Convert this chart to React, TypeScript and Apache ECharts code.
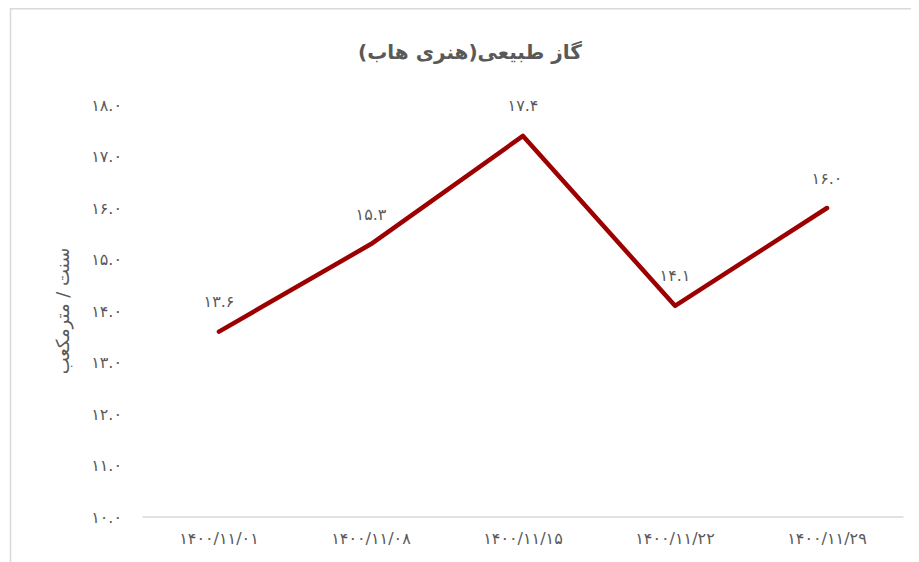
import React, { useEffect, useRef } from "react";
import * as echarts from "echarts";

const titleText = "گاز طبیعی(هنری هاب)";
const yAxisName = "سنت / مترمکعب";
const categories = ["۱۴۰۰/۱۱/۰۱", "۱۴۰۰/۱۱/۰۸", "۱۴۰۰/۱۱/۱۵", "۱۴۰۰/۱۱/۲۲", "۱۴۰۰/۱۱/۲۹"];
const values = [13.6, 15.3, 17.4, 14.1, 16.0];
const yMin = 10;
const yMax = 18;
const yInterval = 1;

const faDigits = "۰۱۲۳۴۵۶۷۸۹";
const toFa = (s: string) => s.replace(/[0-9]/g, (d) => faDigits[Number(d)]);

const FONT = "'DejaVu Sans', 'Noto Sans', sans-serif";
const GRAY = "#595959";

export default function App() {
  const ref = useRef<HTMLDivElement>(null);
  useEffect(() => {
    if (!ref.current) return;
    const chart = echarts.init(ref.current, undefined, { renderer: "svg" });
    chart.setOption({
      animation: false,
      backgroundColor: "#ffffff",
      graphic: [
        {
          type: "rect",
          shape: { x: 2.5, y: 0.75, width: 1000, height: 1000 },
          style: { fill: "none", stroke: "#d9d9d9", lineWidth: 1.5 },
          silent: true,
        },
        {
          type: "text",
          x: 462,
          y: 44,
          style: {
            text: titleText,
            fill: GRAY,
            font: `bold 20px ${FONT}`,
            textAlign: "center",
            textVerticalAlign: "middle",
          },
        },
      ],
      grid: { left: 135, right: 16, top: 97, bottom: 45 },
      xAxis: {
        type: "category",
        data: categories,
        boundaryGap: true,
        axisLine: { show: true, lineStyle: { color: "#d9d9d9", width: 1.5 } },
        axisTick: { show: false },
        axisLabel: { color: GRAY, fontSize: 16, fontFamily: FONT, margin: 13 },
        splitLine: { show: false },
      },
      yAxis: {
        type: "value",
        min: yMin,
        max: yMax,
        interval: yInterval,
        name: yAxisName,
        nameLocation: "middle",
        nameGap: 72,
        nameRotate: 90,
        nameTextStyle: { color: GRAY, fontSize: 18, fontFamily: FONT },
        axisLine: { show: false },
        axisTick: { show: false },
        splitLine: { show: false },
        axisLabel: {
          color: GRAY,
          fontSize: 16,
          fontFamily: FONT,
          margin: 21,
          formatter: (v: number) => toFa(v.toFixed(1)),
        },
      },
      series: [
        {
          type: "line",
          data: values,
          showSymbol: true,
          symbol: "circle",
          symbolSize: 2,
          lineStyle: { color: "#9c0000", width: 4.5, cap: "round", join: "round" },
          itemStyle: { color: "#9c0000", opacity: 0 },
          label: {
            show: true,
            position: "top",
            distance: 21,
            color: GRAY,
            fontSize: 16,
            fontFamily: FONT,
            opacity: 1,
            formatter: (p: any) => toFa(Number(p.value).toFixed(1)),
          },
        },
      ],
    });
    return () => chart.dispose();
  }, []);
  return <div ref={ref} style={{ width: 911, height: 554 }} />;
}
